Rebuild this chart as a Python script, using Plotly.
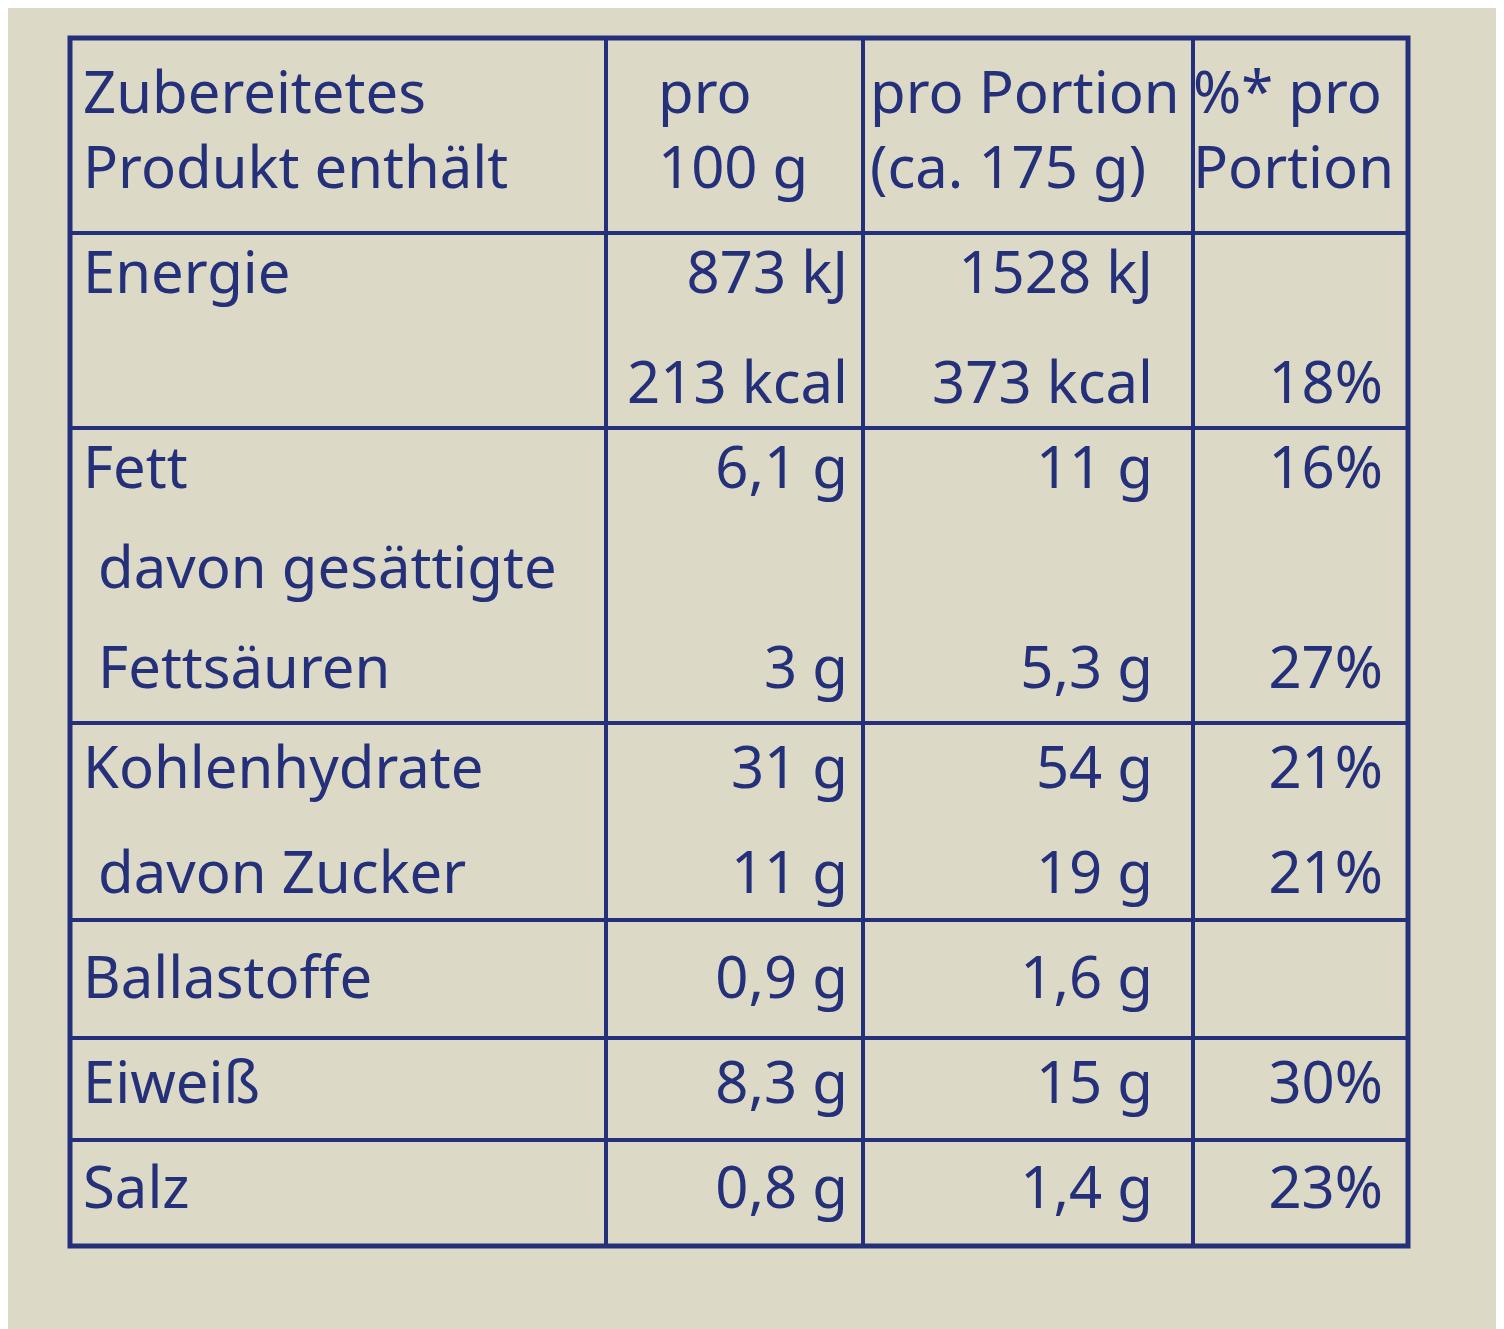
import plotly.graph_objects as go

# one entry per text line of the label
line_y = [90, 165, 270, 380, 465, 565, 665, 765, 870, 975, 1080, 1185]
labels = ["Zubereitetes", "Produkt enthält", "Energie", "", "Fett", " davon gesättigte",
          " Fettsäuren", "Kohlenhydrate", " davon Zucker", "Ballastoffe", "Eiweiß", "Salz"]
per_100g = ["pro", "100 g", "873 kJ", "213 kcal", "6,1 g", "", "3 g", "31 g", "11 g",
            "0,9 g", "8,3 g", "0,8 g"]
per_portion = ["pro Portion", "(ca. 175 g)", "1528 kJ", "373 kcal", "11 g", "", "5,3 g",
               "54 g", "19 g", "1,6 g", "15 g", "1,4 g"]
pct_portion = ["%* pro", "Portion", "", "18%", "16%", "", "27%", "21%", "21%", "",
               "30%", "23%"]

ink = "#25307a"
bg = "#dcd9c6"
font = dict(family="Noto Sans", size=58, color=ink)

fig = go.Figure()

# label column (left aligned)
fig.add_trace(go.Scatter(x=[75] * len(labels), y=line_y, text=labels, mode="text",
                         textposition="middle right", textfont=font, hoverinfo="skip"))

# header rows (first two lines) of value columns
hdr = slice(0, 2)
for x0, col in [(650, per_100g), (862, per_portion), (1185, pct_portion)]:
    fig.add_trace(go.Scatter(x=[x0] * 2, y=line_y[hdr], text=col[hdr], mode="text",
                             textposition="middle right", textfont=font, hoverinfo="skip"))

# body values (right aligned)
body = slice(2, None)
for x1, col in [(840, per_100g), (1145, per_portion), (1375, pct_portion)]:
    fig.add_trace(go.Scatter(x=[x1] * (len(col) - 2), y=line_y[body], text=col[body],
                             mode="text", textposition="middle left", textfont=font,
                             hoverinfo="skip"))

# grid
left, right, top, bottom = 62, 1400, 30, 1238
col_x = [598, 855, 1185]
row_y = [225, 420, 715, 912, 1030, 1132]
shapes = [dict(type="rect", x0=left, x1=right, y0=top, y1=bottom,
               line=dict(color=ink, width=5))]
for cx in col_x:
    shapes.append(dict(type="line", x0=cx, x1=cx, y0=top, y1=bottom,
                       line=dict(color=ink, width=4)))
for ry in row_y:
    shapes.append(dict(type="line", x0=left, x1=right, y0=ry, y1=ry,
                       line=dict(color=ink, width=4)))

fig.update_layout(
    width=1504, height=1329, margin=dict(l=0, r=0, t=0, b=0),
    paper_bgcolor=bg, plot_bgcolor=bg, showlegend=False, shapes=shapes,
    xaxis=dict(range=[0, 1504], visible=False, fixedrange=True),
    yaxis=dict(range=[1329, 0], visible=False, fixedrange=True),
)

fig.write_html("out.html")
